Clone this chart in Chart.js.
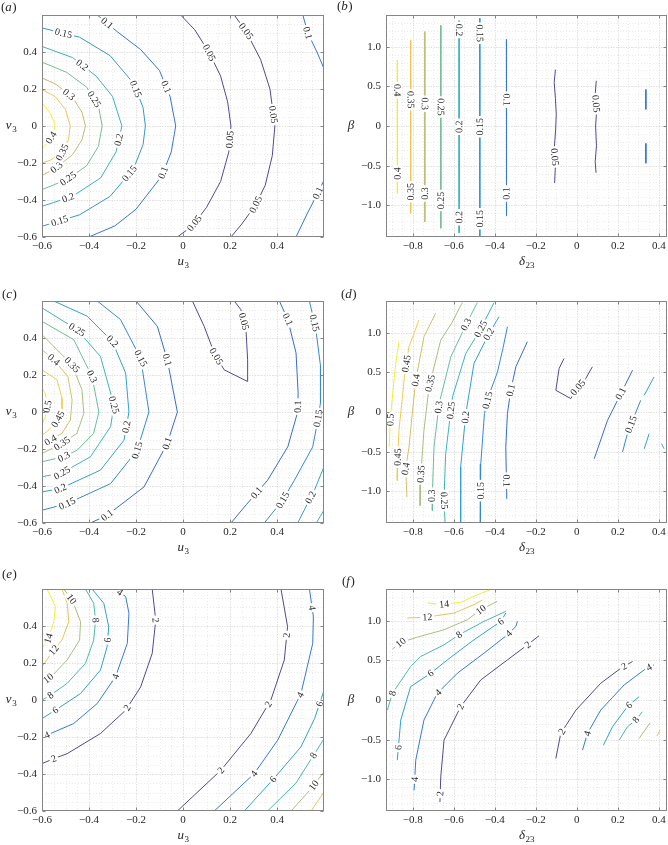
<!DOCTYPE html>
<html>
<head>
<meta charset="utf-8">
<script src="https://cdn.jsdelivr.net/npm/chart.js@4.4.1/dist/chart.umd.min.js"></script>
<style>
  html, body { margin: 0; padding: 0; background: #fff; overflow: hidden; }
  #wrap { position: relative; width: 668px; height: 845px; overflow: hidden; }
  canvas { position: absolute; }
</style>
</head>
<body>
<div id="wrap">
  <canvas id="pa" width="334" height="287" style="left:0px;top:-5px"></canvas>
  <canvas id="pb" width="334" height="287" style="left:334px;top:-5px"></canvas>
  <canvas id="pc" width="334" height="287" style="left:0px;top:281px"></canvas>
  <canvas id="pd" width="334" height="287" style="left:334px;top:281px"></canvas>
  <canvas id="pe" width="334" height="287" style="left:0px;top:569px"></canvas>
  <canvas id="pf" width="334" height="287" style="left:334px;top:569px"></canvas>
</div>
<script>
// axis ranges and tick labels
const rangeUV = [-0.6, 0.6];
const rangeDelta = [-0.93, 0.44];
const rangeBeta = [-1.4, 1.4];
const ticksUV = [-0.6, -0.4, -0.2, 0, 0.2, 0.4];
const ticksDelta = [-0.8, -0.6, -0.4, -0.2, 0, 0.2, 0.4];
const ticksBeta = [-1.0, -0.5, 0, 0.5, 1.0];

// (a) u3 / v3
const levelsA = [0.4, 0.35, 0.3, 0.25, 0.2, 0.15, 0.1, 0.05, 0.05, 0.1, 0.1];
const linesA = [
  [[-0.6,0.124],[-0.565,0.07],[-0.545,0.01],[-0.55,-0.04],[-0.572,-0.085],[-0.6,-0.124]],
  [[-0.6,0.196],[-0.545,0.16],[-0.5,0.09],[-0.48,0.0],[-0.487,-0.075],[-0.515,-0.145],[-0.565,-0.185],[-0.6,-0.2]],
  [[-0.6,0.26],[-0.54,0.225],[-0.47,0.155],[-0.43,0.075],[-0.415,0.0],[-0.43,-0.075],[-0.47,-0.155],[-0.54,-0.225],[-0.6,-0.268]],
  [[-0.6,0.345],[-0.495,0.29],[-0.41,0.21],[-0.36,0.11],[-0.344,0.0],[-0.36,-0.11],[-0.41,-0.215],[-0.495,-0.29],[-0.6,-0.344]],
  [[-0.6,0.43],[-0.47,0.37],[-0.37,0.27],[-0.3,0.16],[-0.26,0.0],[-0.285,-0.14],[-0.35,-0.28],[-0.47,-0.38],[-0.6,-0.434]],
  [[-0.6,0.53],[-0.44,0.48],[-0.31,0.38],[-0.21,0.23],[-0.17,0.1],[-0.16,0.0],[-0.17,-0.1],[-0.21,-0.23],[-0.31,-0.38],[-0.44,-0.48],[-0.6,-0.542]],
  [[-0.365,0.6],[-0.28,0.51],[-0.18,0.413],[-0.1,0.3],[-0.055,0.16],[-0.031,0.0],[-0.05,-0.14],[-0.09,-0.27],[-0.2,-0.45],[-0.29,-0.54],[-0.401,-0.6]],
  [[-0.01,0.6],[0.05,0.52],[0.11,0.4],[0.16,0.27],[0.19,0.13],[0.204,0.0],[0.195,-0.14],[0.16,-0.3],[0.1,-0.44],[0.04,-0.54],[-0.024,-0.6]],
  [[0.218,0.6],[0.268,0.512],[0.33,0.36],[0.37,0.2],[0.391,0.0],[0.38,-0.16],[0.35,-0.32],[0.31,-0.425],[0.25,-0.53],[0.204,-0.6]],
  [[0.51,0.6],[0.531,0.503],[0.57,0.4],[0.605,0.295]],
  [[0.605,-0.28],[0.574,-0.362],[0.53,-0.47],[0.481,-0.6]]
];
const labelsA = [
  [6,-0.323,0.557],[6,-0.067,0.214],[6,-0.081,-0.254],
  [5,-0.508,0.503],[5,-0.209,0.196],[5,-0.23,-0.254],[5,-0.529,-0.497],
  [4,-0.422,0.341],[4,-0.273,-0.074],[4,-0.486,-0.398],
  [3,-0.372,0.15],[3,-0.486,-0.29],
  [2,-0.486,0.17],[2,-0.536,-0.227],
  [1,-0.515,-0.142],[0,-0.564,-0.06],
  [7,0.111,0.395],[7,0.204,-0.074],[7,0.047,-0.524],
  [8,0.268,0.512],[8,0.381,0.061],[8,0.31,-0.425],
  [9,0.531,0.503],[10,0.574,-0.362]
];

// (b) delta23 / beta
const levelsB = [0.4, 0.35, 0.3, 0.25, 0.2, 0.15, 0.1, 0.05, 0.05, 0.1, 0.1];
const linesB = [
  [[-0.875,0.83],[-0.874,0.0],[-0.875,-0.85]],
  [[-0.81,1.08],[-0.809,0.0],[-0.81,-1.1]],
  [[-0.741,1.19],[-0.74,0.0],[-0.741,-1.21]],
  [[-0.663,1.27],[-0.662,0.0],[-0.663,-1.29]],
  [[-0.574,1.33],[-0.573,0.0],[-0.574,-1.35]],
  [[-0.473,1.36],[-0.472,0.0],[-0.473,-1.39]],
  [[-0.343,1.09],[-0.342,0.0],[-0.343,-1.13]],
  [[-0.104,0.71],[-0.11,0.55],[-0.104,0.35],[-0.1,0.15],[-0.103,-0.05],[-0.11,-0.3],[-0.104,-0.5],[-0.108,-0.72]],
  [[0.095,0.57],[0.09,0.4],[0.097,0.2],[0.092,0.0],[0.096,-0.25],[0.09,-0.45],[0.094,-0.59]],
  [[0.337,0.46],[0.337,0.21]],
  [[0.337,-0.22],[0.337,-0.47]]
];
const labelsB = [
  [0,-0.875,0.45],[0,-0.875,-0.6],
  [1,-0.81,0.33],[1,-0.81,-0.83],
  [2,-0.741,0.28],[2,-0.741,-0.85],
  [3,-0.663,0.24],[3,-0.663,-0.94],
  [4,-0.574,1.21],[4,-0.574,-0.01],[4,-0.574,-1.15],
  [5,-0.473,1.17],[5,-0.473,-0.01],[5,-0.473,-1.17],
  [6,-0.343,0.33],[6,-0.343,-0.85],
  [7,-0.106,-0.39],[8,0.093,0.28]
];

// (c) u3 / v3
const levelsC = [0.5, 0.45, 0.4, 0.35, 0.3, 0.25, 0.2, 0.15, 0.1, 0.05, 0.1, 0.15, 0.2, 0.25];
const linesC = [
  [[-0.6,0.13],[-0.586,0.1],[-0.577,0.03],[-0.586,-0.025],[-0.6,-0.065]],
  [[-0.6,0.228],[-0.536,0.174],[-0.515,0.074],[-0.515,0.0],[-0.543,-0.061],[-0.579,-0.106],[-0.6,-0.124]],
  [[-0.6,0.337],[-0.55,0.282],[-0.49,0.192],[-0.472,0.065],[-0.479,-0.043],[-0.515,-0.115],[-0.564,-0.152],[-0.6,-0.179]],
  [[-0.6,0.418],[-0.472,0.255],[-0.43,0.12],[-0.422,-0.007],[-0.451,-0.115],[-0.515,-0.17],[-0.6,-0.224]],
  [[-0.6,0.49],[-0.465,0.391],[-0.387,0.192],[-0.358,0.0],[-0.38,-0.115],[-0.45,-0.206],[-0.507,-0.242],[-0.6,-0.269]],
  [[-0.6,0.563],[-0.451,0.445],[-0.351,0.3],[-0.294,0.038],[-0.308,-0.079],[-0.394,-0.242],[-0.515,-0.329],[-0.6,-0.35]],
  [[-0.55,0.6],[-0.408,0.518],[-0.301,0.382],[-0.244,0.21],[-0.23,0.0],[-0.251,-0.152],[-0.351,-0.314],[-0.522,-0.414],[-0.6,-0.432]],
  [[-0.365,0.6],[-0.266,0.5],[-0.18,0.29],[-0.145,0.0],[-0.195,-0.206],[-0.308,-0.387],[-0.493,-0.495],[-0.6,-0.531]],
  [[-0.2,0.6],[-0.109,0.463],[-0.067,0.282],[-0.024,0.0],[-0.067,-0.17],[-0.166,-0.405],[-0.323,-0.558],[-0.394,-0.6]],
  [[0.04,0.6],[0.09,0.463],[0.133,0.319],[0.175,0.228],[0.275,0.165],[0.275,0.282],[0.268,0.445],[0.246,0.554],[0.218,0.6]],
  [[0.41,0.6],[0.446,0.5],[0.481,0.319],[0.49,0.1],[0.488,0.0],[0.446,-0.188],[0.36,-0.369],[0.27,-0.5],[0.204,-0.6]],
  [[0.538,0.6],[0.565,0.45],[0.585,0.25],[0.585,0.05],[0.573,-0.05],[0.552,-0.188],[0.474,-0.369],[0.424,-0.477],[0.346,-0.6]],
  [[0.6,-0.296],[0.56,-0.42],[0.52,-0.52],[0.488,-0.6]],
  [[0.6,-0.53],[0.567,-0.6]]
];
const labelsC = [
  [0,-0.58,0.03],[1,-0.53,-0.04],
  [2,-0.55,0.282],[2,-0.564,-0.152],
  [3,-0.472,0.255],[3,-0.515,-0.17],
  [4,-0.387,0.192],[4,-0.507,-0.242],
  [5,-0.451,0.445],[5,-0.294,0.038],[5,-0.515,-0.329],
  [6,-0.301,0.382],[6,-0.244,-0.08],[6,-0.522,-0.414],
  [7,-0.18,0.29],[7,-0.195,-0.206],[7,-0.493,-0.495],
  [8,-0.067,0.282],[8,-0.067,-0.17],[8,-0.323,-0.558],
  [9,0.14,0.3],[9,0.26,0.49],
  [10,0.446,0.5],[10,0.474,0.029],[10,0.317,-0.441],
  [11,0.559,0.481],[11,0.573,-0.034],[11,0.424,-0.477],
  [12,0.54,-0.46]
];

// (d) delta23 / beta
const levelsD = [0.5, 0.45, 0.4, 0.35, 0.3, 0.25, 0.2, 0.15, 0.1, 0.05, 0.1, 0.15, 0.2, 0.2, 0.25];
const linesD = [
  [[-0.867,0.886],[-0.883,0.6],[-0.891,0.4],[-0.902,0.1],[-0.907,-0.02],[-0.915,-0.443]],
  [[-0.769,1.16],[-0.818,0.823],[-0.838,0.5],[-0.85,0.19],[-0.867,-0.232],[-0.873,-0.6],[-0.875,-0.865]],
  [[-0.688,1.245],[-0.745,0.949],[-0.785,0.401],[-0.802,-0.021],[-0.818,-0.443],[-0.834,-0.717],[-0.828,-1.076]],
  [[-0.558,1.38],[-0.61,1.12],[-0.663,0.907],[-0.72,0.316],[-0.745,-0.232],[-0.761,-0.823],[-0.764,-1.181]],
  [[-0.485,1.38],[-0.54,1.1],[-0.614,0.696],[-0.671,0.105],[-0.696,-0.443],[-0.704,-1.034],[-0.704,-1.245]],
  [[-0.403,1.38],[-0.47,1.04],[-0.541,0.738],[-0.606,0.19],[-0.639,-0.527],[-0.647,-1.076],[-0.642,-1.4]],
  [[-0.379,1.2],[-0.43,0.98],[-0.501,0.612],[-0.541,-0.021],[-0.566,-0.696],[-0.566,-1.4]],
  [[-0.338,1.076],[-0.36,0.8],[-0.387,0.5],[-0.43,0.2],[-0.45,-0.02],[-0.468,-0.654],[-0.47,-1.4]],
  [[-0.241,0.886],[-0.297,0.57],[-0.322,0.27],[-0.338,-0.021],[-0.346,-0.443],[-0.341,-1.097]],
  [[-0.062,0.675],[-0.086,0.549],[-0.102,0.274],[-0.029,0.169],[0.003,0.3],[0.044,0.422],[0.076,0.57]],
  [[0.085,-0.591],[0.15,-0.105],[0.215,0.232],[0.272,0.527]],
  [[0.223,-0.506],[0.247,-0.274],[0.272,-0.105],[0.312,0.148]],
  [[0.329,0.211],[0.377,0.443]],
  [[0.329,-0.464],[0.353,-0.274]],
  [[0.413,-0.4],[0.426,-0.464]]
];
const labelsD = [
  [0,-0.907,-0.1],
  [1,-0.834,0.61],[1,-0.875,-0.57],
  [2,-0.785,0.401],[2,-0.834,-0.717],
  [3,-0.712,0.359],[3,-0.769,-0.781],
  [4,-0.55,1.118],[4,-0.68,0.063],[4,-0.704,-1.055],
  [5,-0.47,1.05],[5,-0.615,0.021],[5,-0.645,-1.118],
  [6,-0.428,0.98],[6,-0.55,-0.063],
  [7,-0.435,0.148],[7,-0.471,-0.992],
  [8,-0.322,0.274],[8,-0.343,-0.865],
  [9,0.003,0.316],
  [10,0.215,0.232],
  [11,0.255,-0.148]
];

// (e) u3 / v3
const levelsE = [14, 12, 10, 8, 6, 4, 2, 2, 4, 6, 8, 10, 12];
const linesE = [
  [[-0.579,0.6],[-0.543,0.505],[-0.55,0.423],[-0.572,0.333],[-0.6,0.279]],
  [[-0.515,0.6],[-0.493,0.523],[-0.486,0.423],[-0.515,0.324],[-0.55,0.27],[-0.6,0.18]],
  [[-0.508,0.6],[-0.472,0.541],[-0.436,0.423],[-0.44,0.324],[-0.493,0.216],[-0.55,0.14],[-0.6,0.09]],
  [[-0.415,0.6],[-0.38,0.523],[-0.372,0.432],[-0.38,0.324],[-0.415,0.198],[-0.493,0.09],[-0.564,0.026],[-0.6,0.0]],
  [[-0.387,0.6],[-0.337,0.523],[-0.316,0.396],[-0.323,0.288],[-0.351,0.162],[-0.436,0.035],[-0.543,-0.055],[-0.6,-0.1]],
  [[-0.287,0.6],[-0.244,0.559],[-0.23,0.469],[-0.237,0.306],[-0.287,0.126],[-0.365,-0.019],[-0.465,-0.127],[-0.579,-0.19],[-0.6,-0.199]],
  [[-0.131,0.6],[-0.116,0.432],[-0.131,0.252],[-0.18,0.071],[-0.244,-0.055],[-0.351,-0.181],[-0.493,-0.29],[-0.55,-0.317],[-0.6,-0.344]],
  [[0.417,0.6],[0.445,0.396],[0.431,0.216],[0.374,0.0],[0.289,-0.181],[0.161,-0.38],[-0.024,-0.6]],
  [[0.538,0.6],[0.555,0.45],[0.552,0.306],[0.502,0.035],[0.403,-0.217],[0.303,-0.398],[0.133,-0.6]],
  [[0.605,0.071],[0.56,-0.1],[0.502,-0.253],[0.39,-0.42],[0.261,-0.6]],
  [[0.605,-0.199],[0.56,-0.29],[0.48,-0.45],[0.36,-0.6]],
  [[0.605,-0.38],[0.545,-0.48],[0.46,-0.6]],
  [[0.605,-0.488],[0.545,-0.6]]
];
const labelsE = [
  [0,-0.572,0.333],[1,-0.55,0.27],
  [2,-0.479,0.541],[2,-0.573,0.117],
  [3,-0.372,0.432],[3,-0.564,0.026],
  [4,-0.323,0.324],[4,-0.543,-0.055],
  [5,-0.27,0.58],[5,-0.287,0.126],[5,-0.579,-0.19],
  [6,-0.116,0.432],[6,-0.244,-0.037],[6,-0.55,-0.317],
  [7,0.44,0.35],[7,0.36,-0.02],[7,0.161,-0.38],
  [8,0.555,0.5],[8,0.488,0.035],[8,0.303,-0.398],
  [9,0.58,-0.02],[9,0.381,-0.425],
  [10,0.555,-0.3],[11,0.555,-0.46]
];

// (f) delta23 / beta
const levelsF = [14, 12, 10, 8, 6, 4, 2, 2, 4, 6, 8, 10, 12];
const linesF = [
  [[-0.728,1.224],[-0.66,1.205],[-0.566,1.232],[-0.5,1.31],[-0.42,1.395]],
  [[-0.826,1.034],[-0.728,1.046],[-0.598,1.097],[-0.501,1.203],[-0.46,1.26]],
  [[-0.899,0.641],[-0.858,0.726],[-0.777,0.793],[-0.647,0.886],[-0.533,1.013],[-0.468,1.139],[-0.387,1.245]],
  [[-0.923,-0.127],[-0.899,0.084],[-0.81,0.422],[-0.761,0.549],[-0.647,0.696],[-0.574,0.823],[-0.452,0.992],[-0.346,1.118]],
  [[-0.875,-0.759],[-0.858,-0.253],[-0.81,0.169],[-0.712,0.338],[-0.631,0.506],[-0.501,0.759],[-0.37,0.992],[-0.346,1.097]],
  [[-0.793,-1.139],[-0.785,-0.759],[-0.745,-0.253],[-0.68,0.084],[-0.582,0.338],[-0.452,0.591],[-0.338,0.823],[-0.297,0.928],[-0.289,0.992]],
  [[-0.667,-1.287],[-0.663,-0.97],[-0.647,-0.506],[-0.566,-0.084],[-0.468,0.253],[-0.338,0.506],[-0.24,0.696],[-0.184,0.81]],
  [[-0.102,-0.738],[-0.078,-0.422],[-0.004,-0.127],[0.117,0.211],[0.215,0.401],[0.272,0.485]],
  [[0.028,-0.633],[0.052,-0.422],[0.117,-0.127],[0.231,0.19],[0.329,0.38],[0.377,0.443]],
  [[0.13,-0.57],[0.174,-0.338],[0.247,-0.084],[0.304,0.042]],
  [[0.207,-0.506],[0.247,-0.338],[0.288,-0.253],[0.32,-0.148]],
  [[0.304,-0.485],[0.358,-0.287]],
  [[0.39,-0.456],[0.406,-0.38]]
];
const labelsF = [
  [0,-0.647,1.21],[1,-0.728,1.046],
  [2,-0.858,0.726],[2,-0.468,1.139],
  [3,-0.899,0.084],[3,-0.574,0.823],
  [4,-0.866,-0.6],[4,-0.712,0.338],[4,-0.37,0.99],
  [5,-0.79,-1.0],[5,-0.671,0.084],[5,-0.33,0.835],
  [6,-0.664,-1.18],[6,-0.566,-0.084],[6,-0.24,0.7],
  [7,-0.07,-0.4],[7,0.231,0.422],
  [8,0.052,-0.422],[8,0.353,0.41],
  [9,0.255,-0.063],[10,0.288,-0.25]
];

// ---------------------------------------------------------------
const serif = '"Liberation Serif", "Times New Roman", serif';
const parulaStops = ['#352a87', '#0f5cdd', '#1481d6', '#06a4ca', '#2eb7a4', '#87bf77', '#d1bb59', '#fec832', '#f9fb0e'];

// parula colour, washed a little towards white like the printed figure
function parula(t) {
  const n = parulaStops.length - 1;
  const f = Math.min(n - 1e-9, Math.max(0, t * n));
  const i = Math.floor(f), u = f - i;
  const a = parseInt(parulaStops[i].slice(1), 16), b = parseInt(parulaStops[i + 1].slice(1), 16);
  const ch = s => {
    const c = ((a >> s) & 255) * (1 - u) + ((b >> s) & 255) * u;
    return Math.round(c * 0.8 + 255 * 0.2 - 12);
  };
  return `rgb(${ch(16)},${ch(8)},${ch(0)})`;
}

function fmtTick(v, oneDecimal) {
  if (Math.abs(v) < 1e-9) return '0';
  const s = oneDecimal ? v.toFixed(1) : String(+v.toFixed(2));
  return s.replace('-', '\u2212');
}

const panelInfo = {};

// italic symbol with an optional upright subscript, centred on (cx, cy)
function drawSym(ctx, cx, cy, main, sub) {
  ctx.save();
  ctx.textBaseline = 'middle';
  ctx.textAlign = 'left';
  ctx.font = 'italic 13px ' + serif;
  const w1 = ctx.measureText(main).width;
  ctx.font = '9px ' + serif;
  const w2 = sub ? ctx.measureText(sub).width : 0;
  const x = cx - (w1 + w2) / 2;
  ctx.fillStyle = '#262626';
  ctx.font = 'italic 13px ' + serif;
  ctx.fillText(main, x, cy);
  if (sub) {
    ctx.font = '9px ' + serif;
    ctx.fillText(sub, x + w1 + 0.5, cy + 4);
  }
  ctx.restore();
}

const decorPlugin = {
  id: 'contourDecor',
  beforeDatasetsDraw(chart) {
    const p = panelInfo[chart.canvas.id];
    const { ctx, chartArea: a } = chart;
    const xs = chart.scales.x, ys = chart.scales.y;
    ctx.save();
    ctx.beginPath();
    ctx.rect(a.left, a.top, a.right - a.left, a.bottom - a.top);
    ctx.clip();
    const line = (scale, v, horiz) => {
      const px = Math.round(scale.getPixelForValue(v)) + 0.5;
      ctx.beginPath();
      if (horiz) { ctx.moveTo(a.left, px); ctx.lineTo(a.right, px); }
      else { ctx.moveTo(px, a.top); ctx.lineTo(px, a.bottom); }
      ctx.stroke();
    };
    const minor = (scale, step, horiz) => {
      const k0 = Math.ceil(scale.min / step - 1e-6), k1 = Math.floor(scale.max / step + 1e-6);
      for (let k = k0; k <= k1; k++) line(scale, k * step, horiz);
    };
    ctx.lineWidth = 0.7;
    ctx.strokeStyle = '#e2e2e2';
    ctx.setLineDash([1, 2]);
    minor(xs, p.minorX, false);
    minor(ys, p.minorY, true);
    ctx.strokeStyle = '#d2d2d2';
    ctx.setLineDash([1, 1.5]);
    p.xTicks.forEach(v => line(xs, v, false));
    p.yTicks.forEach(v => line(ys, v, true));
    ctx.restore();
  },
  afterDatasetsDraw(chart) {
    const p = panelInfo[chart.canvas.id];
    const { ctx, chartArea: a } = chart;
    const xs = chart.scales.x, ys = chart.scales.y;

    // contour labels, set into a gap along their line
    ctx.save();
    ctx.font = '10px ' + serif;
    ctx.textAlign = 'center';
    ctx.textBaseline = 'middle';
    p.labels.forEach(([li, lx, ly]) => {
      const pts = p.lines[li].map(q => [xs.getPixelForValue(q[0]), ys.getPixelForValue(q[1])]);
      const px = xs.getPixelForValue(lx), py = ys.getPixelForValue(ly);
      let best = null;
      for (let i = 0; i < pts.length - 1; i++) {
        const [x1, y1] = pts[i], [x2, y2] = pts[i + 1];
        const dx = x2 - x1, dy = y2 - y1, L2 = dx * dx + dy * dy || 1;
        const t = Math.max(0, Math.min(1, ((px - x1) * dx + (py - y1) * dy) / L2));
        const qx = x1 + t * dx, qy = y1 + t * dy;
        const d = (qx - px) ** 2 + (qy - py) ** 2;
        if (!best || d < best.d) best = { d, qx, qy, ang: Math.atan2(dy, dx) };
      }
      let ang = best.ang;
      if (ang >= Math.PI / 2 - 1e-6) ang -= Math.PI;
      if (ang < -Math.PI / 2 - 1e-6) ang += Math.PI;
      const txt = String(p.levels[li]);
      const w = ctx.measureText(txt).width;
      ctx.save();
      ctx.translate(best.qx, best.qy);
      ctx.rotate(ang);
      ctx.fillStyle = '#ffffff';
      ctx.fillRect(-w / 2 - 2, -4.5, w + 4, 9);
      ctx.fillStyle = '#2b2b2b';
      ctx.fillText(txt, 0, 0.5);
      ctx.restore();
    });
    ctx.restore();

    // axes box with inward ticks
    ctx.save();
    ctx.strokeStyle = '#858585';
    ctx.lineWidth = 1;
    const L = Math.round(a.left) + 0.5, R = Math.round(a.right) - 0.5;
    const T = Math.round(a.top) + 0.5, B = Math.round(a.bottom) - 0.5;
    ctx.strokeRect(L, T, R - L, B - T);
    ctx.beginPath();
    p.xTicks.forEach(v => {
      const x = Math.round(xs.getPixelForValue(v)) + 0.5;
      ctx.moveTo(x, B); ctx.lineTo(x, B - 3);
      ctx.moveTo(x, T); ctx.lineTo(x, T + 3);
    });
    p.yTicks.forEach(v => {
      const y = Math.round(ys.getPixelForValue(v)) + 0.5;
      ctx.moveTo(L, y); ctx.lineTo(L + 3, y);
      ctx.moveTo(R, y); ctx.lineTo(R - 3, y);
    });
    ctx.stroke();
    ctx.restore();
  },
  afterDraw(chart) {
    const p = panelInfo[chart.canvas.id];
    const { ctx, chartArea: a } = chart;
    drawSym(ctx, (a.left + a.right) / 2, a.bottom + 24.5, p.xTitle[0], p.xTitle[1]);
    drawSym(ctx, p.yTitleX, (a.top + a.bottom) / 2, p.yTitle[0], p.yTitle[1]);
    // panel letter
    ctx.save();
    ctx.textBaseline = 'middle';
    ctx.textAlign = 'left';
    ctx.fillStyle = '#262626';
    let x = p.letterPos[0];
    const y = p.letterPos[1];
    ctx.font = '13px ' + serif;
    ctx.fillText('(', x, y); x += ctx.measureText('(').width;
    ctx.font = 'italic 13px ' + serif;
    ctx.fillText(p.letter, x, y); x += ctx.measureText(p.letter).width + 0.5;
    ctx.font = '13px ' + serif;
    ctx.fillText(')', x, y);
    ctx.restore();
  }
};

function makePanel(id, cfg) {
  panelInfo[id] = cfg;
  const lo = Math.min(...cfg.levels), hi = Math.max(...cfg.levels);
  const datasets = cfg.lines.map((pts, i) => ({
    data: pts.map(q => ({ x: q[0], y: q[1] })),
    showLine: true,
    borderColor: parula((cfg.levels[i] - lo) / (hi - lo)),
    borderWidth: 1,
    pointRadius: 0,
    pointHoverRadius: 0,
    fill: false,
    tension: 0
  }));
  const tickFont = { family: serif, size: 11 };
  new Chart(document.getElementById(id), {
    type: 'scatter',
    data: { datasets },
    options: {
      responsive: false,
      animation: false,
      devicePixelRatio: 1,
      events: [],
      layout: { padding: { left: 0, right: cfg.padRight, top: 20, bottom: 0 } },
      plugins: { legend: { display: false }, tooltip: { enabled: false } },
      scales: {
        x: {
          type: 'linear', min: cfg.xRange[0], max: cfg.xRange[1],
          afterBuildTicks: s => { s.ticks = cfg.xTicks.map(v => ({ value: v })); },
          afterFit: s => { s.height = 45; s.paddingLeft = 0; s.paddingRight = 0; },
          ticks: { callback: v => fmtTick(v, false), font: tickFont, color: '#262626', padding: 3, maxRotation: 0, autoSkip: false },
          grid: { display: false, drawTicks: false },
          border: { display: false }
        },
        y: {
          type: 'linear', min: cfg.yRange[0], max: cfg.yRange[1],
          afterBuildTicks: s => { s.ticks = cfg.yTicks.map(v => ({ value: v })); },
          afterFit: s => { s.width = cfg.yWidth; s.paddingTop = 0; s.paddingBottom = 0; },
          ticks: { callback: v => fmtTick(v, cfg.yOneDecimal), font: tickFont, color: '#262626', padding: 5, autoSkip: false },
          grid: { display: false, drawTicks: false },
          border: { display: false }
        }
      }
    },
    plugins: [decorPlugin]
  });
}

const leftCommon = {
  xRange: rangeUV, yRange: rangeUV, xTicks: ticksUV, yTicks: ticksUV,
  minorX: 0.05, minorY: 0.05, yWidth: 42, padRight: 10, yOneDecimal: false,
  xTitle: ['u', '3'], yTitle: ['v', '3'], yTitleX: 11
};
const rightCommon = {
  xRange: rangeDelta, yRange: rangeBeta, xTicks: ticksDelta, yTicks: ticksBeta,
  minorX: 0.05, minorY: 0.1, yWidth: 52, padRight: 1, yOneDecimal: true,
  xTitle: ['\u03b4', '23'], yTitle: ['\u03b2', ''], yTitleX: 17
};

makePanel('pa', Object.assign({}, leftCommon, { levels: levelsA, lines: linesA, labels: labelsA, letter: 'a', letterPos: [1, 13] }));
makePanel('pb', Object.assign({}, rightCommon, { levels: levelsB, lines: linesB, labels: labelsB, letter: 'b', letterPos: [3, 12] }));
makePanel('pc', Object.assign({}, leftCommon, { levels: levelsC, lines: linesC, labels: labelsC, letter: 'c', letterPos: [2, 14] }));
makePanel('pd', Object.assign({}, rightCommon, { levels: levelsD, lines: linesD, labels: labelsD, letter: 'd', letterPos: [7, 14] }));
makePanel('pe', Object.assign({}, leftCommon, { levels: levelsE, lines: linesE, labels: labelsE, letter: 'e', letterPos: [2, 6] }));
makePanel('pf', Object.assign({}, rightCommon, { levels: levelsF, lines: linesF, labels: labelsF, letter: 'f', letterPos: [8, 13] }));
</script>
</body>
</html>
